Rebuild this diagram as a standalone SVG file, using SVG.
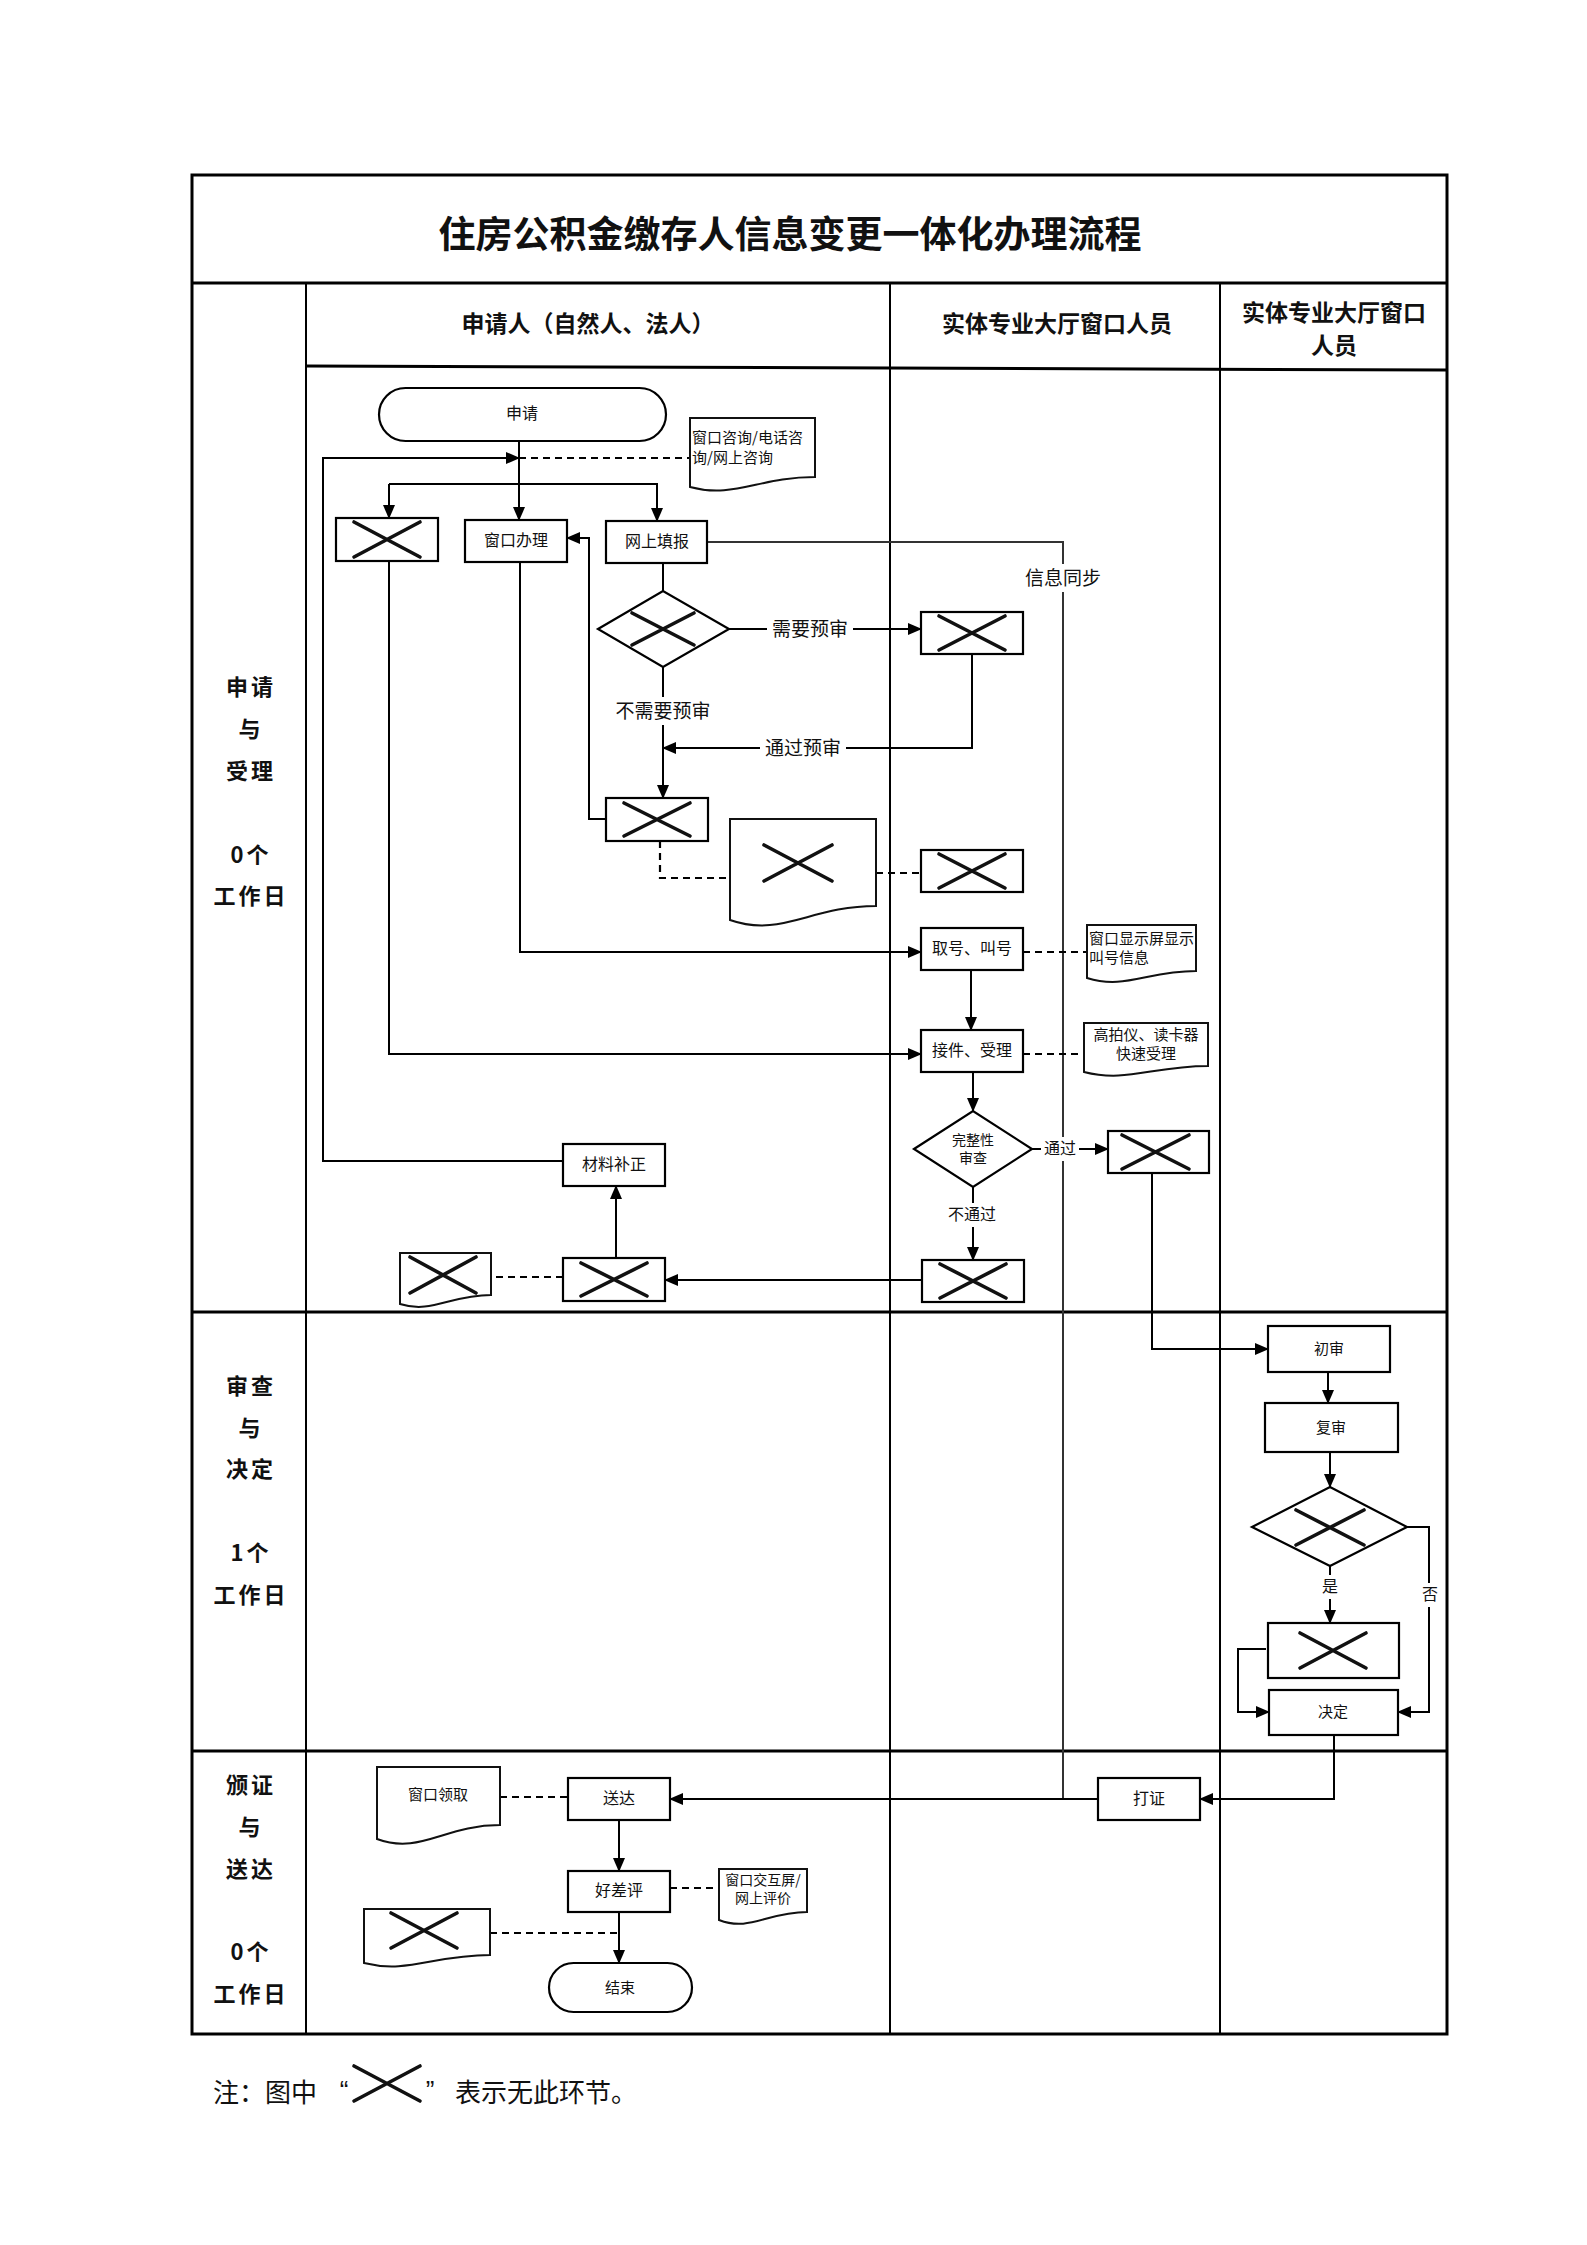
<svg xmlns="http://www.w3.org/2000/svg" width="1587" height="2245" viewBox="0 0 1587 2245">
<style>
text{font-family:'Noto Sans CJK SC','Noto Sans',sans-serif;fill:#111;text-anchor:middle;dominant-baseline:central}
.tb{fill:none;stroke:#000;stroke-width:3}
.tl{fill:none;stroke:#000;stroke-width:2}
.box{fill:#fff;stroke:#000;stroke-width:2.2}
.doc{fill:#fff;stroke:#111;stroke-width:2}
.x{fill:none;stroke:#111;stroke-width:3.6;stroke-linecap:round}
.ln{fill:none;stroke:#000;stroke-width:2}
.gl{fill:none;stroke:#333;stroke-width:2}
.dash{fill:none;stroke:#000;stroke-width:2.2;stroke-dasharray:7 5}
.bg{fill:#fff;stroke:none}
.lab{font-size:22px;font-weight:700;letter-spacing:3px}
.hd{font-size:23px;font-weight:700}
.t16{font-size:16px}
.t15{font-size:15px}
.t14{font-size:14px}
.t19{font-size:19px}
</style>
<defs>
<marker id="ar" markerUnits="userSpaceOnUse" markerWidth="14" markerHeight="12" refX="13" refY="6" orient="auto">
<path d="M0,0 L14,6 L0,12 Z" fill="#000"/>
</marker>
</defs>
<rect width="1587" height="2245" fill="#fff"/>

<g id="table">
<rect class="tb" x="192" y="175" width="1255" height="1859"/>
<line class="tb" x1="192" y1="283" x2="1447" y2="283"/>
<line class="tl" x1="306" y1="283" x2="306" y2="2034"/>
<line class="tl" x1="890" y1="283" x2="890" y2="2034"/>
<line class="tl" x1="1220" y1="283" x2="1220" y2="2034"/>
<line class="tb" x1="306" y1="366" x2="1447" y2="370"/>
<line class="tb" x1="192" y1="1312" x2="1447" y2="1312"/>
<line class="tb" x1="192" y1="1751" x2="1447" y2="1751"/>
<text x="790" y="232" style="font-size:37px;font-weight:700">住房公积金缴存人信息变更一体化办理流程</text>
<text class="hd" x="588" y="322">申请人（自然人、法人）</text>
<text class="hd" x="1057" y="322">实体专业大厅窗口人员</text>
<text class="hd" x="1334" y="311">实体专业大厅窗口</text>
<text class="hd" x="1334" y="344">人员</text>
<text class="lab" x="251" y="685">申请</text>
<text class="lab" x="251" y="727">与</text>
<text class="lab" x="251" y="769">受理</text>
<text class="lab" x="251" y="853">0个</text>
<text class="lab" x="251" y="894">工作日</text>
<text class="lab" x="251" y="1384">审查</text>
<text class="lab" x="251" y="1426">与</text>
<text class="lab" x="251" y="1467">决定</text>
<text class="lab" x="251" y="1551">1个</text>
<text class="lab" x="251" y="1593">工作日</text>
<text class="lab" x="251" y="1783">颁证</text>
<text class="lab" x="251" y="1825">与</text>
<text class="lab" x="251" y="1867">送达</text>
<text class="lab" x="251" y="1950">0个</text>
<text class="lab" x="251" y="1992">工作日</text>
</g>

<g id="connectors">
<line class="ln" x1="519" y1="441" x2="519" y2="520" marker-end="url(#ar)"/>
<polyline class="ln" points="389,484 657,484 657,521" marker-end="url(#ar)"/>
<polyline class="ln" points="389,484 389,518" marker-end="url(#ar)"/>
<line class="dash" x1="519" y1="458" x2="690" y2="458"/>
<polyline class="ln" points="563,1161 323,1161 323,458 519,458" marker-end="url(#ar)"/>
<polyline class="gl" points="707,542 1063,542 1063,1799"/>
<line class="ln" x1="663" y1="563" x2="663" y2="591"/>
<line class="ln" x1="729" y1="629" x2="921" y2="629" marker-end="url(#ar)"/>
<line class="ln" x1="663" y1="667" x2="663" y2="798" marker-end="url(#ar)"/>
<polyline class="ln" points="972,654 972,748 663,748" marker-end="url(#ar)"/>
<polyline class="ln" points="606,819 589,819 589,538 567,538" marker-end="url(#ar)"/>
<polyline class="dash" points="660,841 660,878 730,878"/>
<line class="dash" x1="876" y1="873" x2="921" y2="873"/>
<polyline class="ln" points="520,562 520,952 921,952" marker-end="url(#ar)"/>
<line class="dash" x1="1023" y1="952" x2="1087" y2="952"/>
<line class="ln" x1="971" y1="970" x2="971" y2="1030" marker-end="url(#ar)"/>
<polyline class="ln" points="389,561 389,1054 921,1054" marker-end="url(#ar)"/>
<line class="dash" x1="1023" y1="1054" x2="1084" y2="1054"/>
<line class="ln" x1="973" y1="1072" x2="973" y2="1111" marker-end="url(#ar)"/>
<line class="ln" x1="1032" y1="1149" x2="1108" y2="1149" marker-end="url(#ar)"/>
<line class="ln" x1="973" y1="1187" x2="973" y2="1260" marker-end="url(#ar)"/>
<polyline class="ln" points="1152,1173 1152,1349 1268,1349" marker-end="url(#ar)"/>
<line class="ln" x1="922" y1="1280" x2="665" y2="1280" marker-end="url(#ar)"/>
<line class="ln" x1="616" y1="1258" x2="616" y2="1186" marker-end="url(#ar)"/>
<line class="dash" x1="563" y1="1277" x2="491" y2="1277"/>
<line class="ln" x1="1328" y1="1372" x2="1328" y2="1403" marker-end="url(#ar)"/>
<line class="ln" x1="1330" y1="1452" x2="1330" y2="1487" marker-end="url(#ar)"/>
<line class="ln" x1="1330" y1="1566" x2="1330" y2="1623" marker-end="url(#ar)"/>
<polyline class="ln" points="1407,1527 1429,1527 1429,1712 1398,1712" marker-end="url(#ar)"/>
<polyline class="ln" points="1266,1649 1238,1649 1238,1712 1269,1712" marker-end="url(#ar)"/>
<polyline class="ln" points="1334,1735 1334,1799 1200,1799" marker-end="url(#ar)"/>
<line class="ln" x1="1098" y1="1799" x2="670" y2="1799" marker-end="url(#ar)"/>
<line class="dash" x1="500" y1="1797" x2="568" y2="1797"/>
<line class="ln" x1="619" y1="1820" x2="619" y2="1871" marker-end="url(#ar)"/>
<line class="dash" x1="670" y1="1888" x2="719" y2="1888"/>
<line class="ln" x1="619" y1="1912" x2="619" y2="1963" marker-end="url(#ar)"/>
<line class="dash" x1="490" y1="1933" x2="619" y2="1933"/>
</g>

<g id="labels">
<rect class="bg" x="1020" y="564" width="86" height="28"/>
<text class="t19" x="1063" y="576">信息同步</text>
<rect class="bg" x="767" y="615" width="86" height="28"/>
<text class="t19" x="810" y="627">需要预审</text>
<rect class="bg" x="610" y="697" width="106" height="28"/>
<text class="t19" x="663" y="709">不需要预审</text>
<rect class="bg" x="760" y="734" width="86" height="28"/>
<text class="t19" x="803" y="746">通过预审</text>
<rect class="bg" x="1041" y="1137" width="38" height="24"/>
<text class="t16" x="1060" y="1147">通过</text>
<rect class="bg" x="944" y="1203" width="56" height="24"/>
<text class="t16" x="972" y="1213">不通过</text>
<rect class="bg" x="1319" y="1575" width="22" height="24"/>
<text class="t16" x="1330" y="1585">是</text>
<rect class="bg" x="1418" y="1583" width="22" height="24"/>
<text class="t16" x="1430" y="1593">否</text>
</g>

<g id="n-apply"><rect class="box" x="379" y="388" width="287" height="53" rx="26.5"/><text class="t16" x="522" y="412">申请</text></g>
<g id="n-consult"><path class="doc" d="M690,418 H815 V477 C758.8,477 733.8,499 690,487 Z"/><text class="t15" x="692" y="436" style="text-anchor:start">窗口咨询/电话咨</text><text class="t15" x="692" y="456" style="text-anchor:start">询/网上咨询</text></g>
<g id="n-x1"><rect class="box" x="336" y="518" width="102" height="43"/><path class="x" d="M354,522 L420,557 M420,522 L354,557"/></g>
<g id="n-window"><rect class="box" x="465" y="520" width="102" height="42"/><text class="t16" x="516" y="539">窗口办理</text></g>
<g id="n-online"><rect class="box" x="606" y="521" width="101" height="42"/><text class="t16" x="657" y="540">网上填报</text></g>
<g id="n-d1"><polygon class="box" points="598,629 663,591 729,629 663,667"/><path class="x" d="M632,613 L694,645 M694,613 L632,645"/></g>
<g id="n-x3"><rect class="box" x="921" y="612" width="102" height="42"/><path class="x" d="M939,616 L1005,650 M1005,616 L939,650"/></g>
<g id="n-x2"><rect class="box" x="606" y="798" width="102" height="43"/><path class="x" d="M624,803 L690,836 M690,803 L624,836"/></g>
<g id="n-doc2"><path class="doc" d="M730,819 H876 V906 C810.3,906 781.1,938 730,920 Z"/><path class="x" d="M764,845 L832,881 M832,845 L764,881"/></g>
<g id="n-x4"><rect class="box" x="921" y="850" width="102" height="42"/><path class="x" d="M939,854 L1005,888 M1005,854 L939,888"/></g>
<g id="n-number"><rect class="box" x="921" y="928" width="102" height="42"/><text class="t16" x="972" y="947">取号、叫号</text></g>
<g id="n-screen"><path class="doc" d="M1087,925 H1196 V971 C1147,971 1125,990 1087,978 Z"/><text class="t15" x="1089" y="937" style="text-anchor:start">窗口显示屏显示</text><text class="t15" x="1089" y="956" style="text-anchor:start">叫号信息</text></g>
<g id="n-accept"><rect class="box" x="921" y="1030" width="102" height="42"/><text class="t16" x="972" y="1049">接件、受理</text></g>
<g id="n-camera"><path class="doc" d="M1084,1023 H1208 V1066 C1152,1066 1127,1083 1084,1072 Z"/><text class="t15" x="1146" y="1033">高拍仪、读卡器</text><text class="t15" x="1146" y="1052">快速受理</text></g>
<g id="n-check"><polygon class="box" points="914,1149 973,1111 1032,1149 973,1187"/><text class="t14" x="973" y="1139">完整性</text><text class="t14" x="973" y="1157">审查</text></g>
<g id="n-x5"><rect class="box" x="1108" y="1131" width="101" height="42"/><path class="x" d="M1122,1135 L1189,1169 M1189,1135 L1122,1169"/></g>
<g id="n-x6"><rect class="box" x="922" y="1260" width="102" height="42"/><path class="x" d="M940,1264 L1006,1298 M1006,1264 L940,1298"/></g>
<g id="n-x7"><rect class="box" x="563" y="1258" width="102" height="43"/><path class="x" d="M581,1263 L647,1296 M647,1263 L581,1296"/></g>
<g id="n-supplement"><rect class="box" x="563" y="1144" width="102" height="42"/><text class="t16" x="614" y="1163">材料补正</text></g>
<g id="n-doc8"><path class="doc" d="M400,1253 H491 V1295 C450,1295 432,1314 400,1304 Z"/><path class="x" d="M410,1257 L476,1293 M476,1257 L410,1293"/></g>

<g id="n-first"><rect class="box" x="1268" y="1326" width="122" height="46"/><text class="t15" x="1329" y="1347">初审</text></g>
<g id="n-second"><rect class="box" x="1265" y="1403" width="133" height="49"/><text class="t15" x="1331" y="1426">复审</text></g>
<g id="n-d3"><polygon class="box" points="1252,1527 1330,1487 1407,1527 1330,1566"/><path class="x" d="M1296,1510 L1364,1545 M1364,1510 L1296,1545"/></g>
<g id="n-x9"><rect class="box" x="1268" y="1623" width="131" height="55"/><path class="x" d="M1300,1633 L1366,1668 M1366,1633 L1300,1668"/></g>
<g id="n-decide"><rect class="box" x="1269" y="1690" width="129" height="45"/><text class="t15" x="1333" y="1710">决定</text></g>

<g id="n-print"><rect class="box" x="1098" y="1778" width="102" height="42"/><text class="t16" x="1149" y="1797">打证</text></g>
<g id="n-deliver"><rect class="box" x="568" y="1778" width="102" height="42"/><text class="t16" x="619" y="1797">送达</text></g>
<g id="n-pickup"><path class="doc" d="M377,1767 H500 V1825 C444.6,1825 420,1855 377,1839 Z"/><text class="t15" x="438" y="1793">窗口领取</text></g>
<g id="n-review"><rect class="box" x="568" y="1871" width="102" height="41"/><text class="t16" x="619" y="1889">好差评</text></g>
<g id="n-eval"><path class="doc" d="M719,1869 H807 V1912 C767.4,1912 749.8,1932 719,1920 Z"/><text class="t14" x="763" y="1879">窗口交互屏/</text><text class="t14" x="763" y="1897">网上评价</text></g>
<g id="n-xdoc"><path class="doc" d="M364,1909 H490 V1955 C433.3,1955 408.1,1974 364,1963 Z"/><path class="x" d="M391,1913 L457,1948 M457,1913 L391,1948"/></g>
<g id="n-end"><rect class="box" x="549" y="1963" width="143" height="49" rx="24.5"/><text class="t15" x="620" y="1986">结束</text></g>

<g id="note">
<text x="213" y="2090" style="font-size:26px;text-anchor:start">注：图中</text>
<text x="344" y="2090" style="font-family:'Liberation Sans',sans-serif;font-size:26px">“</text>
<path class="x" d="M354,2066 L420,2101 M420,2066 L354,2101"/>
<text x="430" y="2090" style="font-family:'Liberation Sans',sans-serif;font-size:26px">”</text>
<text x="455" y="2090" style="font-size:26px;text-anchor:start">表示无此环节。</text>
</g>
</svg>
